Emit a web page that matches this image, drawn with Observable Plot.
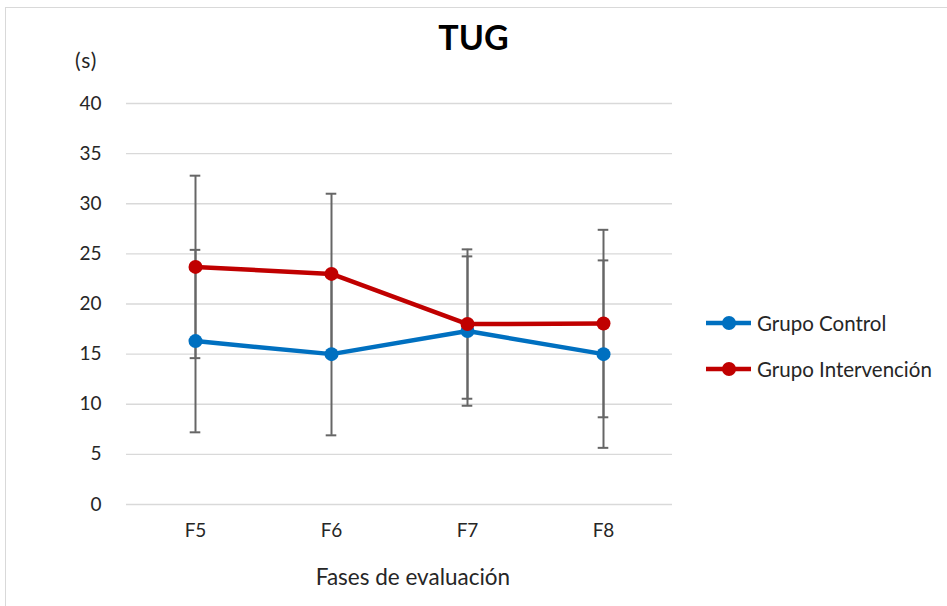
<!DOCTYPE html>
<html>
<head>
<meta charset="utf-8">
<script src="https://cdn.jsdelivr.net/npm/d3@7"></script>
<script src="https://cdn.jsdelivr.net/npm/@observablehq/plot@0.6"></script>
<style>
  html, body { margin: 0; padding: 0; background: #fff; overflow: hidden; }
  body { width: 947px; height: 606px; position: relative; font-family: Lato, "Open Sans", sans-serif; color: #262626; }
  #frame { position: absolute; left: 5px; top: 7px; width: 980px; height: 640px; border: 1px solid #d9d9d9; box-sizing: border-box; }
  #chart { position: absolute; left: 0; top: 0; }
  .txt { position: absolute; white-space: nowrap; }
  #title { left: 0; width: 947px; text-align: center; top: 18px; font-size: 34px; font-weight: bold; color: #000; line-height: 38px; }
  #unit { left: 75px; top: 47px; font-size: 21px; line-height: 26px; letter-spacing: 1px; }
  #xtitle { left: 263px; width: 300px; text-align: center; top: 563px; font-size: 22.5px; line-height: 28px; }
  .leg { position: absolute; left: 706px; height: 24px; font-size: 20.5px; line-height: 24px; }
  .leg svg { position: absolute; left: 0; top: 1px; }
  .leg span { position: absolute; left: 51px; top: 0; white-space: nowrap; }
</style>
</head>
<body>
<div id="frame"></div>
<div id="chart"></div>
<div class="txt" id="title">TUG</div>
<div class="txt" id="unit">(s)</div>
<div class="txt" id="xtitle">Fases de evaluación</div>
<div id="legend"></div>
<script>
const phases = ["F5", "F6", "F7", "F8"];
const seriesNames = ["Grupo Control", "Grupo Intervención"];
const controlMean = [16.3, 15.0, 17.3, 15.0];
const controlErr = [9.1, 8.1, 7.45, 9.35];
const interventionMean = [23.7, 23.0, 18.0, 18.05];
const interventionErr = [9.1, 8.0, 7.45, 9.35];
const yTicks = [0, 5, 10, 15, 20, 25, 30, 35, 40];
const colors = ["#0070C0", "#C00000"];

const rows = [];
phases.forEach((p, i) => {
  rows.push({phase: p, series: seriesNames[0], mean: controlMean[i], lo: controlMean[i] - controlErr[i], hi: controlMean[i] + controlErr[i]});
});
phases.forEach((p, i) => {
  rows.push({phase: p, series: seriesNames[1], mean: interventionMean[i], lo: interventionMean[i] - interventionErr[i], hi: interventionMean[i] + interventionErr[i]});
});

const capInset = 62.7;
const chart = Plot.plot({
  width: 947,
  height: 606,
  marginLeft: 126,
  marginRight: 275,
  marginTop: 103,
  marginBottom: 102,
  style: {fontFamily: "Lato, 'Open Sans', sans-serif", fontSize: "19px", color: "#262626", background: "transparent"},
  x: {type: "band", domain: phases, padding: 0, label: null, tickSize: 0, tickPadding: 19},
  y: {domain: [0, 40], ticks: yTicks, label: null, tickSize: 0, tickPadding: 25},
  color: {domain: seriesNames, range: colors},
  marks: [
    Plot.gridY(yTicks, {stroke: "#d9d9d9", strokeOpacity: 1, strokeWidth: 1.3}),
    Plot.ruleX(rows, {x: "phase", y1: "lo", y2: "hi", stroke: "#666", strokeWidth: 2}),
    Plot.tickY(rows, {x: "phase", y: "lo", stroke: "#666", strokeWidth: 2, insetLeft: capInset, insetRight: capInset}),
    Plot.tickY(rows, {x: "phase", y: "hi", stroke: "#666", strokeWidth: 2, insetLeft: capInset, insetRight: capInset}),
    Plot.line(rows, {x: "phase", y: "mean", z: "series", stroke: "series", strokeWidth: 4.5}),
    Plot.dot(rows, {x: "phase", y: "mean", fill: "series", r: 7})
  ]
});
document.getElementById("chart").appendChild(chart);

const legend = document.getElementById("legend");
const legTops = [311, 357];
seriesNames.forEach((name, i) => {
  const d = document.createElement("div");
  d.className = "leg";
  d.style.top = legTops[i] + "px";
  d.innerHTML = `<svg width="50" height="22"><line x1="0" x2="45" y1="11" y2="11" stroke="${colors[i]}" stroke-width="4.5"/><circle cx="23" cy="11" r="7" fill="${colors[i]}"/></svg><span>${name}</span>`;
  legend.appendChild(d);
});
</script>
</body>
</html>
